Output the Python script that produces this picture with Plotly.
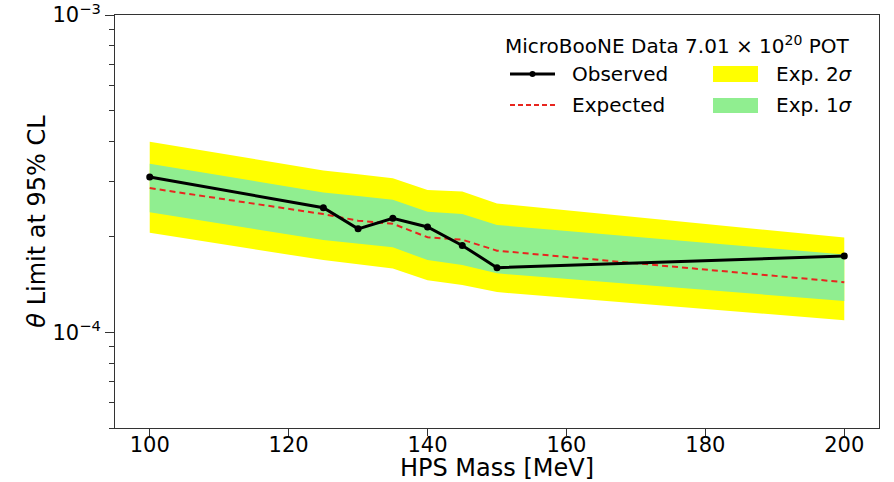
import plotly.graph_objects as go

# ---- data ----
mass = [100, 125, 130, 135, 140, 145, 150, 200]
observed = [3.09e-4, 2.47e-4, 2.12e-4, 2.29e-4, 2.15e-4, 1.88e-4, 1.60e-4, 1.74e-4]
expected = [2.85e-4, 2.36e-4, 2.25e-4, 2.20e-4, 1.995e-4, 1.96e-4, 1.81e-4, 1.44e-4]
exp_2sig_up = [3.99e-4, 3.24e-4, 3.15e-4, 3.06e-4, 2.81e-4, 2.78e-4, 2.55e-4, 1.99e-4]
exp_1sig_up = [3.40e-4, 2.76e-4, 2.69e-4, 2.62e-4, 2.40e-4, 2.36e-4, 2.18e-4, 1.76e-4]
exp_1sig_lo = [2.39e-4, 1.955e-4, 1.90e-4, 1.855e-4, 1.69e-4, 1.63e-4, 1.535e-4, 1.257e-4]
exp_2sig_lo = [2.06e-4, 1.69e-4, 1.64e-4, 1.59e-4, 1.46e-4, 1.41e-4, 1.34e-4, 1.093e-4]

x_ticks = [100, 120, 140, 160, 180, 200]
y_major = [1e-4, 1e-3]
y_major_text = ["10<sup>\u22124</sup>", "10<sup>\u22123</sup>"]
y_minor = [5e-5, 6e-5, 7e-5, 8e-5, 9e-5, 2e-4, 3e-4, 4e-4, 5e-4, 6e-4, 7e-4, 8e-4, 9e-4]

legend_title = "MicroBooNE Data 7.01 \u00d7 10<sup>20</sup> POT"
legend_labels = ["Observed", "Expected", "Exp. 2<i>\u03c3</i>", "Exp. 1<i>\u03c3</i>"]

FONT = "DejaVu Sans"
YELLOW = "#ffff00"
GREEN = "#90ee90"

fig = go.Figure()

fig.add_trace(go.Scatter(
    x=mass + mass[::-1], y=exp_2sig_up + exp_2sig_lo[::-1],
    fill="toself", fillcolor=YELLOW, line=dict(width=0), mode="lines",
    hoverinfo="skip", showlegend=False))
fig.add_trace(go.Scatter(
    x=mass + mass[::-1], y=exp_1sig_up + exp_1sig_lo[::-1],
    fill="toself", fillcolor=GREEN, line=dict(width=0), mode="lines",
    hoverinfo="skip", showlegend=False))
fig.add_trace(go.Scatter(
    x=mass, y=expected, mode="lines",
    line=dict(color="#e8251f", width=2, dash="6px,4px"), showlegend=False))
fig.add_trace(go.Scatter(
    x=mass, y=observed, mode="lines+markers",
    line=dict(color="black", width=3), marker=dict(color="black", size=7),
    showlegend=False))

# plot-area geometry in pixels
W, H = 894, 482
L, R, T, B = 115, 15, 15, 54
pw, ph = W - L - R, H - T - B


def px(xp):
    return (xp - L) / pw


def py(yp):
    return (H - B - yp) / ph


shapes = []
annotations = []
# legend title
annotations.append(dict(xref="paper", yref="paper", x=px(503), y=py(45),
                        xanchor="left", yanchor="middle", showarrow=False,
                        text=legend_title, font=dict(family=FONT, size=20, color="black")))
# Observed
shapes.append(dict(type="line", xref="paper", yref="paper", x0=px(510), x1=px(555),
                   y0=py(74), y1=py(74), line=dict(color="black", width=3)))
shapes.append(dict(type="circle", xref="paper", yref="paper", x0=px(529.5), x1=px(535.5),
                   y0=py(77), y1=py(71), fillcolor="black", line=dict(width=0)))
# Expected
shapes.append(dict(type="line", xref="paper", yref="paper", x0=px(510), x1=px(555),
                   y0=py(105), y1=py(105), line=dict(color="#e8251f", width=2, dash="5px,3px")))
# Exp 2 sigma
shapes.append(dict(type="rect", xref="paper", yref="paper", x0=px(713), x1=px(758),
                   y0=py(82), y1=py(66), fillcolor=YELLOW, line=dict(width=0)))
# Exp 1 sigma
shapes.append(dict(type="rect", xref="paper", yref="paper", x0=px(713), x1=px(758),
                   y0=py(113), y1=py(98), fillcolor=GREEN, line=dict(width=0)))
for (xt, yt), lab in zip([(570, 74), (570, 105), (774, 74), (774, 105)], legend_labels):
    annotations.append(dict(xref="paper", yref="paper", x=px(xt), y=py(yt),
                            xanchor="left", yanchor="middle", showarrow=False,
                            text=lab, font=dict(family=FONT, size=20, color="black")))

axis_line = "#333333"
fig.update_layout(
    width=W, height=H,
    margin=dict(l=L, r=R, t=T, b=B, pad=0),
    paper_bgcolor="white", plot_bgcolor="white",
    font=dict(family=FONT, color="black"),
    shapes=shapes, annotations=annotations,
    xaxis=dict(
        range=[95, 205], tickvals=x_ticks, ticks="outside", ticklen=7, tickwidth=1,
        tickcolor=axis_line, showline=True, linecolor=axis_line, linewidth=1, mirror=True,
        showgrid=False, zeroline=False, automargin=False, ticklabelstandoff=-9,
        tickfont=dict(size=21, family=FONT, color="black"),
        title=dict(text="HPS Mass [MeV]", font=dict(size=24, family=FONT, color="black"),
                   standoff=4)),
    yaxis=dict(
        type="log", range=[-4.30103, -2.9999], tickvals=y_major, ticktext=y_major_text,
        ticks="outside", ticklen=9, tickwidth=1, tickcolor=axis_line,
        ticklabeloverflow="allow",
        minor=dict(tickvals=y_minor, ticks="outside", ticklen=5, tickwidth=1,
                   tickcolor=axis_line, showgrid=False),
        showline=True, linecolor=axis_line, linewidth=1, mirror=True,
        showgrid=False, zeroline=False, automargin=False,
        tickfont=dict(size=21, family=FONT, color="black"),
        title=dict(text="<i>\u03b8</i> Limit at 95% CL",
                   font=dict(size=24, family=FONT, color="black"), standoff=0)),
)

fig.write_html("out.html")
